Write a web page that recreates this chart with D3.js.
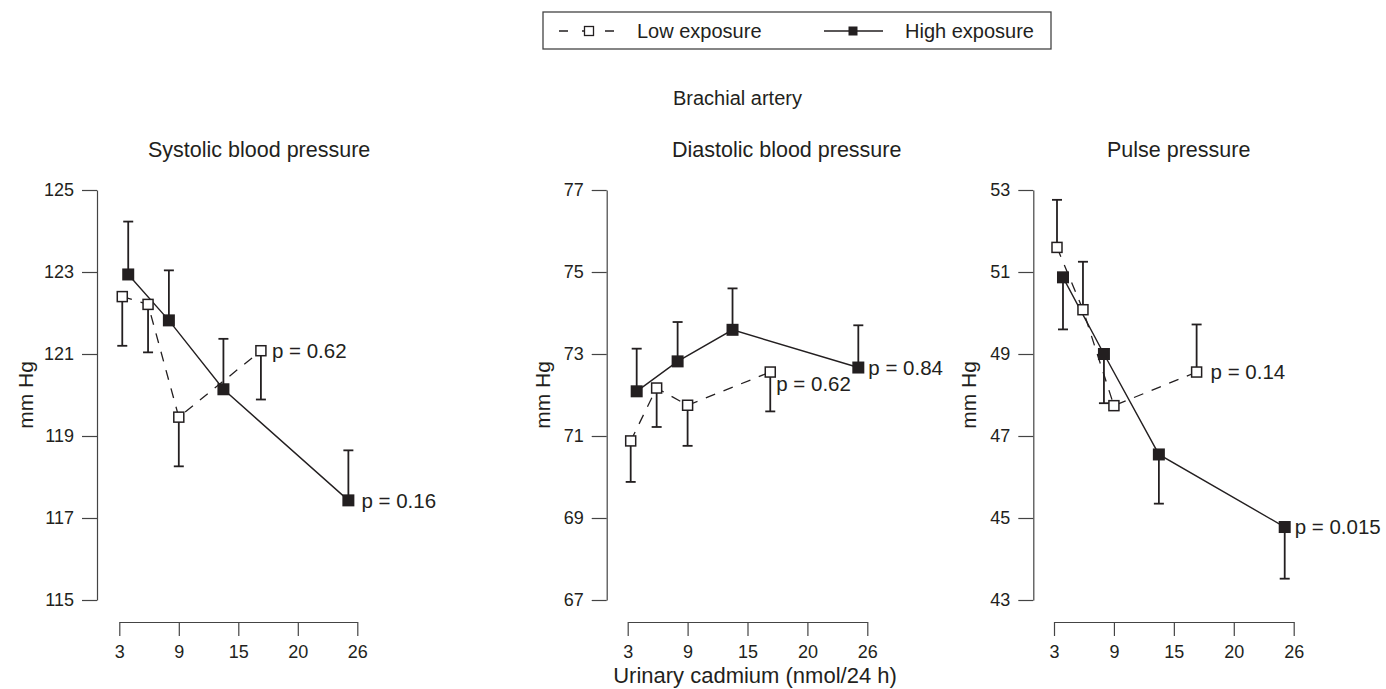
<!DOCTYPE html>
<html>
<head>
<meta charset="utf-8">
<script src="https://cdn.jsdelivr.net/npm/d3@7"></script>
<style>
  body { margin: 0; background: #fff; }
  svg { font-family: "Liberation Sans", Arial, Helvetica, sans-serif; }
</style>
</head>
<body>
<script>
// urinary cadmium at each group mean (nmol/24 h)
var lowX  = [3.3, 5.9, 9.0, 16.9];
var highX = [3.9, 8.0, 13.5, 25.1];
var xTicks = [3, 9, 15, 20, 26];

var panelTitles = ["Systolic blood pressure", "Diastolic blood pressure", "Pulse pressure"];
var yDomains = [[115, 125], [67, 77], [43, 53]];

// means and the end of each drawn error bar (mm Hg)
var sysLow      = [122.40, 122.21, 119.46, 121.08];
var sysLowBar   = [121.20, 121.04, 118.26, 119.89];
var sysHigh     = [122.94, 121.82, 120.14, 117.43];
var sysHighBar  = [124.23, 123.04, 121.37, 118.65];

var diaLow      = [70.88, 72.17, 71.75, 72.56];
var diaLowBar   = [69.88, 71.22, 70.76, 71.60];
var diaHigh     = [72.09, 72.82, 73.59, 72.67];
var diaHighBar  = [73.13, 73.78, 74.60, 73.70];

var pulLow      = [51.60, 50.08, 47.74, 48.56];
var pulLowBar   = [52.76, 51.25, null, 49.72];
var pulHigh     = [50.87, 49.00, 46.55, 44.78];
var pulHighBar  = [49.60, 47.80, 45.35, 43.52];

var pLow  = ["p = 0.62", "p = 0.62", "p = 0.14"];
var pHigh = ["p = 0.16", "p = 0.84", "p = 0.015"];

var width = 1386, height = 689;
var ink = "#231f20";

var svg = d3.select("body").append("svg")
  .attr("width", width)
  .attr("height", height);

svg.append("rect").attr("width", width).attr("height", height).attr("fill", "#fff");

// layout of the three panels
var panels = [
  { axisX: 97,    x0: 119.3, x1: 357.3, labelOff: 64, lowP: [11, 0],  highP: [13, 0] },
  { axisX: 606.7, x0: 627.7, x1: 867.3, labelOff: 57, lowP: [6, 12], highP: [10, 0] },
  { axisX: 1033.3, x0: 1054, x1: 1293.7, labelOff: 57, lowP: [14, 0], highP: [10, 0] }
];
var titleX = [148, 672, 1107];
var series = [
  [sysLow, sysLowBar, sysHigh, sysHighBar],
  [diaLow, diaLowBar, diaHigh, diaHighBar],
  [pulLow, pulLowBar, pulHigh, pulHighBar]
];

var yTop = 190, yBottom = 600, xAxisY = 622;

function drawPanel(i) {
  var p = panels[i];
  var s = series[i];
  var g = svg.append("g");

  var step = (p.x1 - p.x0) / 4;
  var x = d3.scaleLinear()
    .domain(xTicks)
    .range(xTicks.map(function(d, k) { return p.x0 + k * step; }));
  var y = d3.scaleLinear().domain(yDomains[i]).range([yBottom, yTop]);

  var yTicks = d3.range(yDomains[i][0], yDomains[i][1] + 1, 2);

  var ya = g.append("g")
    .attr("transform", "translate(" + p.axisX + ",0)")
    .call(d3.axisLeft(y).tickValues(yTicks).tickSize(15).tickSizeOuter(0).tickPadding(8));
  ya.selectAll("text").attr("font-size", 18).attr("fill", ink).attr("font-family", null);

  var xa = g.append("g")
    .attr("transform", "translate(0," + xAxisY + ")")
    .call(d3.axisBottom(x).tickValues(xTicks).tickSize(14).tickSizeOuter(0).tickPadding(9));
  xa.selectAll("text").attr("font-size", 18).attr("fill", ink).attr("font-family", null);

  [ya, xa].forEach(function(a) {
    a.selectAll("path, line").attr("stroke", "#444").attr("stroke-width", 1.2);
  });

  g.append("text")
    .attr("transform", "translate(" + (p.axisX - p.labelOff) + "," + ((yTop + yBottom) / 2) + ") rotate(-90)")
    .attr("text-anchor", "middle")
    .attr("font-size", 21)
    .attr("fill", ink)
    .text("mm Hg");

  g.append("text")
    .attr("x", titleX[i])
    .attr("y", 157)
    .attr("font-size", 21.5)
    .attr("fill", ink)
    .text(panelTitles[i]);

  var low = lowX.map(function(d, k) { return { x: d, y: s[0][k], bar: s[1][k] }; });
  var high = highX.map(function(d, k) { return { x: d, y: s[2][k], bar: s[3][k] }; });

  var line = d3.line().x(function(d) { return x(d.x); }).y(function(d) { return y(d.y); });

  g.append("path").datum(low).attr("d", line)
    .attr("fill", "none").attr("stroke", ink).attr("stroke-width", 1.3)
    .attr("stroke-dasharray", "10,9");
  g.append("path").datum(high).attr("d", line)
    .attr("fill", "none").attr("stroke", ink).attr("stroke-width", 1.4);

  var bars = low.concat(high).filter(function(d) { return d.bar != null; });
  var eb = g.selectAll(".eb").data(bars).enter().append("g")
    .attr("stroke", ink).attr("stroke-width", 1.8);
  eb.append("line")
    .attr("x1", function(d) { return x(d.x); })
    .attr("x2", function(d) { return x(d.x); })
    .attr("y1", function(d) { return y(d.y); })
    .attr("y2", function(d) { return y(d.bar); });
  eb.append("line")
    .attr("x1", function(d) { return x(d.x) - 5; })
    .attr("x2", function(d) { return x(d.x) + 5; })
    .attr("y1", function(d) { return y(d.bar); })
    .attr("y2", function(d) { return y(d.bar); });

  g.selectAll(".hi").data(high).enter().append("rect")
    .attr("x", function(d) { return x(d.x) - 6; })
    .attr("y", function(d) { return y(d.y) - 6; })
    .attr("width", 12).attr("height", 12)
    .attr("fill", ink);

  g.selectAll(".lo").data(low).enter().append("rect")
    .attr("x", function(d) { return x(d.x) - 5; })
    .attr("y", function(d) { return y(d.y) - 5; })
    .attr("width", 10).attr("height", 10)
    .attr("fill", "#fff").attr("stroke", ink).attr("stroke-width", 1.5);

  var lastLow = low[low.length - 1], lastHigh = high[high.length - 1];
  g.append("text")
    .attr("x", x(lastLow.x) + p.lowP[0])
    .attr("y", y(lastLow.y) + p.lowP[1])
    .attr("dy", "0.36em")
    .attr("font-size", 20.5).attr("fill", ink)
    .text(pLow[i]);
  g.append("text")
    .attr("x", x(lastHigh.x) + p.highP[0])
    .attr("y", y(lastHigh.y) + p.highP[1])
    .attr("dy", "0.36em")
    .attr("font-size", 20.5).attr("fill", ink)
    .text(pHigh[i]);
}

for (var i = 0; i < 3; i++) drawPanel(i);

// group title and shared x label
svg.append("text")
  .attr("x", 673).attr("y", 105)
  .attr("font-size", 20).attr("fill", ink)
  .text("Brachial artery");

svg.append("text")
  .attr("x", 755).attr("y", 683)
  .attr("text-anchor", "middle")
  .attr("font-size", 22).attr("fill", ink)
  .text("Urinary cadmium (nmol/24 h)");

// legend
var legend = svg.append("g");
legend.append("rect")
  .attr("x", 543).attr("y", 12).attr("width", 508).attr("height", 37)
  .attr("fill", "#fff").attr("stroke", "#444").attr("stroke-width", 1.3);

var legY = 31;
legend.append("line")
  .attr("x1", 559).attr("x2", 618).attr("y1", legY).attr("y2", legY)
  .attr("stroke", ink).attr("stroke-width", 1.3).attr("stroke-dasharray", "9,14");
legend.append("rect")
  .attr("x", 584.5).attr("y", legY - 4.5).attr("width", 9).attr("height", 9)
  .attr("fill", "#fff").attr("stroke", ink).attr("stroke-width", 1.3);
legend.append("text")
  .attr("x", 637).attr("y", legY).attr("dy", "0.36em")
  .attr("font-size", 20).attr("fill", ink)
  .text("Low exposure");

legend.append("line")
  .attr("x1", 824).attr("x2", 883).attr("y1", legY).attr("y2", legY)
  .attr("stroke", ink).attr("stroke-width", 1.4);
legend.append("rect")
  .attr("x", 848.5).attr("y", legY - 4.5).attr("width", 9).attr("height", 9)
  .attr("fill", ink);
legend.append("text")
  .attr("x", 905).attr("y", legY).attr("dy", "0.36em")
  .attr("font-size", 20).attr("fill", ink)
  .text("High exposure");
</script>
</body>
</html>
